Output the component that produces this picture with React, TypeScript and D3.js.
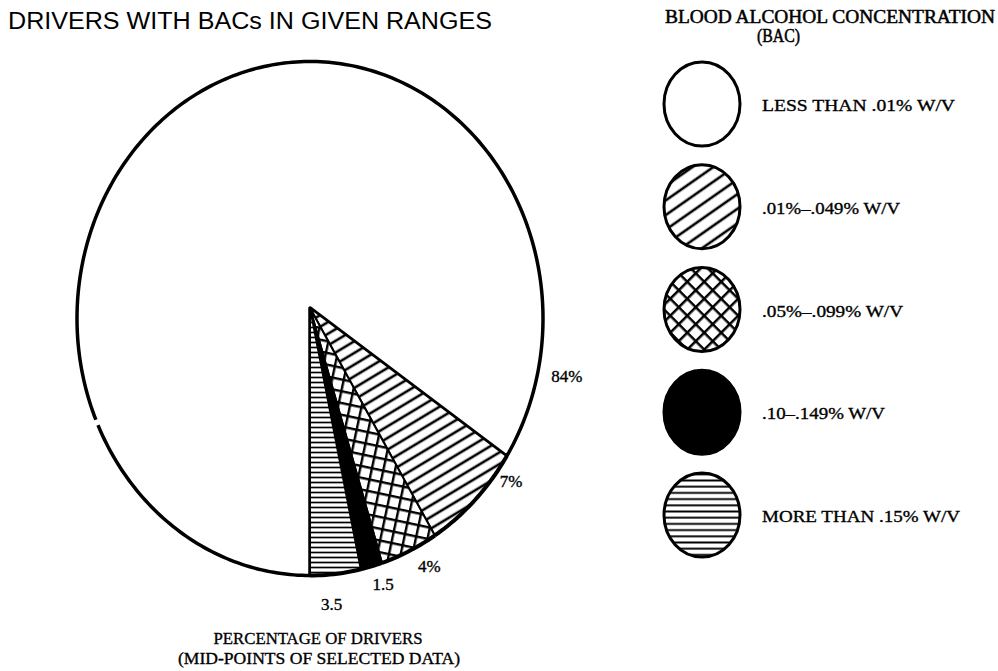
import React from "react";
import * as d3 from "d3";

const CATEGORIES = [
  "LESS THAN .01% W/V",
  ".01%–.049% W/V",
  ".05%–.099% W/V",
  ".10–.149% W/V",
  "MORE THAN .15% W/V",
];
const VALUES = [84, 7, 4, 1.5, 3.5];
const SLICE_LABELS = ["84%", "7%", "4%", "1.5", "3.5"];
const FILLS = ["white", "url(#diagPie)", "url(#crossPie)", "black", "url(#horizPie)"];
const LEGEND_FILLS = ["white", "url(#diagLeg)", "url(#crossLeg)", "black", "url(#horizLeg)"];

// layout constants
const W = 998;
const H = 671;
const CX = 310;
const CY = 318.5;
const RX = 233;
const RY = 257;
const APEX: [number, number] = [310, 308];
const LABEL_ANGLES = [101.5, 126.2, 152, 163.1, 175.2];
const LABEL_RADII = [1.125, 1.07, 1.09, 1.08, 1.115];
const LEGEND_TEXT_W = [193, 138, 141, 123, 198];
const SERIF = "Liberation Serif, serif";

const ept = (a: number): [number, number] => [CX + RX * Math.sin(a), CY - RY * Math.cos(a)];

export default function App() {
  const pie = d3
    .pie<number>()
    .sort(null)
    .startAngle(Math.PI)
    .endAngle(3 * Math.PI)
    .value((d) => d);
  const arcs = pie(VALUES);
  const line = d3.line<[number, number]>();

  const arcPts = (s: number, e: number) => {
    const n = Math.max(8, Math.ceil(((e - s) * 180) / Math.PI));
    const pts: [number, number][] = [];
    for (let i = 0; i <= n; i++) pts.push(ept(s + ((e - s) * i) / n));
    return pts;
  };
  const slicePath = (s: number, e: number) => line([APEX, ...arcPts(s, e)]) + "Z";

  const legendY = d3.scaleLinear().domain([0, 4]).range([104, 515]);
  const txt = { fill: "black", stroke: "black", strokeWidth: 0.35 };

  return (
    <svg width={W} height={H} style={{ position: "absolute", left: 0, top: 0, background: "white" }}>
      <defs>
        <pattern id="diagPie" patternUnits="userSpaceOnUse" width="10" height="10" patternTransform="rotate(-31)">
          <rect width="10" height="10" fill="white" />
          <line x1="-1" y1="5" x2="11" y2="5" stroke="black" strokeWidth="2.6" />
        </pattern>
        <pattern id="crossPie" patternUnits="userSpaceOnUse" width="11.5" height="11.5" patternTransform="rotate(12)">
          <rect width="11.5" height="11.5" fill="white" />
          <line x1="-1" y1="1" x2="12.5" y2="1" stroke="black" strokeWidth="2.8" />
          <line x1="1" y1="-1" x2="1" y2="12.5" stroke="black" strokeWidth="2.8" />
        </pattern>
        <pattern id="horizPie" patternUnits="userSpaceOnUse" width="10" height="5">
          <rect width="10" height="5" fill="white" />
          <line x1="-1" y1="2.5" x2="11" y2="2.5" stroke="black" strokeWidth="1.7" />
        </pattern>
        <pattern id="diagLeg" patternUnits="userSpaceOnUse" width="12" height="12" patternTransform="rotate(-35)">
          <rect width="12" height="12" fill="white" />
          <line x1="-1" y1="6" x2="13" y2="6" stroke="black" strokeWidth="2.6" />
        </pattern>
        <pattern id="crossLeg" patternUnits="userSpaceOnUse" width="12" height="12" patternTransform="rotate(45)">
          <rect width="12" height="12" fill="white" />
          <line x1="-1" y1="1" x2="13" y2="1" stroke="black" strokeWidth="3" />
          <line x1="1" y1="-1" x2="1" y2="13" stroke="black" strokeWidth="3" />
        </pattern>
        <pattern id="horizLeg" patternUnits="userSpaceOnUse" width="10" height="6.2">
          <rect width="10" height="6.2" fill="white" />
          <line x1="-1" y1="3.1" x2="11" y2="3.1" stroke="black" strokeWidth="1.9" />
        </pattern>
      </defs>

      <text x={8} y={29} fontFamily="Liberation Sans, sans-serif" fontSize={23} textLength={484} lengthAdjust="spacingAndGlyphs" fill="black">
        DRIVERS WITH BACs IN GIVEN RANGES
      </text>

      {arcs.map((a, i) => (
        <path
          key={i}
          d={slicePath(a.startAngle, a.endAngle)}
          fill={FILLS[i]}
          stroke="black"
          strokeWidth={i === 0 ? 3.5 : 2}
          strokeLinejoin="round"
        />
      ))}
      {/* thick outer rim on the small slices */}
      {arcs.slice(1).map((a, i) => (
        <path key={"rim" + i} d={line(arcPts(a.startAngle, a.endAngle)) || ""} fill="none" stroke="black" strokeWidth={4} />
      ))}
      {/* small break in the outline, as in the printed original */}
      <path d={line(arcPts((245.5 * Math.PI) / 180, (246.8 * Math.PI) / 180)) || ""} fill="none" stroke="white" strokeWidth={6} />

      {arcs.map((a, i) => {
        const ang = (LABEL_ANGLES[i] * Math.PI) / 180;
        const r = LABEL_RADII[i];
        const x = CX + RX * r * Math.sin(ang);
        const y = CY - RY * r * Math.cos(ang);
        return (
          <text key={"l" + i} x={x} y={y + 6} textAnchor="middle" fontFamily={SERIF} fontSize={17} {...txt}>
            {SLICE_LABELS[i]}
          </text>
        );
      })}

      <text x={665} y={23} fontFamily={SERIF} fontSize={18} textLength={330} lengthAdjust="spacingAndGlyphs" {...txt} strokeWidth={0.5}>
        BLOOD ALCOHOL CONCENTRATION
      </text>
      <text x={757} y={42} fontFamily={SERIF} fontSize={18} textLength={43} lengthAdjust="spacingAndGlyphs" {...txt} strokeWidth={0.5}>
        (BAC)
      </text>

      {CATEGORIES.map((c, i) => {
        const y = legendY(i);
        return (
          <g key={"leg" + i}>
            <ellipse cx={702} cy={y} rx={38} ry={42} fill={LEGEND_FILLS[i]} stroke="black" strokeWidth={3} />
            <text x={762} y={y + 7} fontFamily={SERIF} fontSize={17} textLength={LEGEND_TEXT_W[i]} lengthAdjust="spacingAndGlyphs" {...txt}>
              {c}
            </text>
          </g>
        );
      })}

      <text x={318} y={644} textAnchor="middle" fontFamily={SERIF} fontSize={17} textLength={209} lengthAdjust="spacingAndGlyphs" {...txt}>
        PERCENTAGE OF DRIVERS
      </text>
      <text x={319} y={664} textAnchor="middle" fontFamily={SERIF} fontSize={17} textLength={282} lengthAdjust="spacingAndGlyphs" {...txt}>
        (MID-POINTS OF SELECTED DATA)
      </text>
    </svg>
  );
}
